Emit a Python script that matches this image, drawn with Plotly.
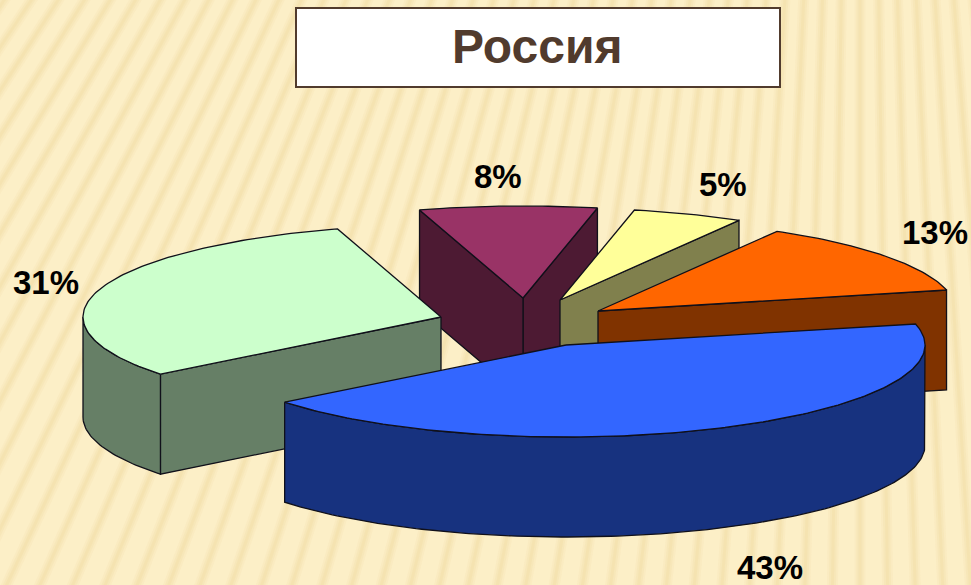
import math
import plotly.graph_objects as go

title = "Россия"
values = [43, 13, 5, 8, 31]
top_colors = ["#3366FF", "#FF6600", "#FFFF99", "#993366", "#CCFFCC"]
wall_colors = ["#17327F", "#803300", "#80804D", "#4D1A33", "#667F66"]

# Geometry of the exploded 3-D pie (screen pixels on the axes)
start_angle = 218.4
centres_x = [566, 598, 560, 523, 441]
centres_y = [345, 311, 300, 298, 317]
radius_x = [359, 358, 358, 358, 358]
radius_y = 92
depth = 100
draw_order = [3, 2, 1, 4, 0]
label_x = [770, 935, 723, 498, 46]
label_y = [567, 232, 184, 176, 282]

W, H = 971, 585
fig = go.Figure()


def add_poly(xs, ys, fill):
    fig.add_trace(go.Scatter(
        x=xs, y=ys, mode="lines", fill="toself", fillcolor=fill,
        line=dict(color="#10101A", width=1.3), hoverinfo="skip", showlegend=False,
    ))


# Background: soft fan of stripes
FX, FY = 860, -1250
for width, alpha in [(11, 0.09), (7, 0.13), (3, 0.15)]:
    xs, ys = [], []
    for i in range(-10, 60):
        a = math.radians(90 + i * 0.86)
        xs += [FX + 2600 * math.cos(a), FX, None]
        ys += [FY + 2600 * math.sin(a), FY, None]
    fig.add_trace(go.Scatter(
        x=xs, y=ys, mode="lines",
        line=dict(color=f"rgba(232,205,135,{alpha})", width=width),
        hoverinfo="skip", showlegend=False,
    ))

# Angles of each slice from the values
total = sum(values)
angles = []
a = start_angle
for v in values:
    angles.append((a, a + 360 * v / total))
    a += 360 * v / total


def pt(i, deg):
    r = math.radians(deg)
    return (centres_x[i] + radius_x[i] * math.cos(r),
            centres_y[i] - radius_y * math.sin(r))


def arc(i, a0, a1):
    n = max(2, int(abs(a1 - a0)) + 1)
    return [pt(i, a0 + (a1 - a0) * k / n) for k in range(n + 1)]


for i in draw_order:
    a0, a1 = angles[i]
    cx, cy = centres_x[i], centres_y[i]
    # radial walls that face the viewer
    for edge, visible in ((a0, math.cos(math.radians(a0)) > 0),
                          (a1, math.cos(math.radians(a1)) < 0)):
        if visible:
            px, py = pt(i, edge)
            add_poly([cx, px, px, cx, cx],
                     [cy, py, py + depth, cy + depth, cy], wall_colors[i])
    # outer curved wall (front half of the ellipse only)
    for k in (-1, 0, 1, 2):
        lo = max(a0, 180 + 360 * k)
        hi = min(a1, 360 + 360 * k)
        if lo < hi:
            pts = arc(i, lo, hi)
            xs = [p[0] for p in pts] + [p[0] for p in reversed(pts)]
            ys = [p[1] for p in pts] + [p[1] + depth for p in reversed(pts)]
            add_poly(xs + xs[:1], ys + ys[:1], wall_colors[i])
    # top face
    pts = arc(i, a0, a1)
    add_poly([cx] + [p[0] for p in pts] + [cx],
             [cy] + [p[1] for p in pts] + [cy], top_colors[i])

annotations = [
    dict(x=x, y=y, xref="x", yref="y", text=f"<b>{v}%</b>", showarrow=False,
         font=dict(family="Liberation Sans", size=33, color="#000000"))
    for x, y, v in zip(label_x, label_y, values)
]
annotations.append(dict(
    x=537, y=46, xref="x", yref="y", text=f"<b>{title}</b>", showarrow=False,
    font=dict(family="Liberation Sans", size=48, color="#513B2D"),
))

fig.update_layout(
    width=W, height=H, margin=dict(l=0, r=0, t=0, b=0),
    paper_bgcolor="#FCEFC7", plot_bgcolor="#FCEFC7",
    xaxis=dict(range=[0, W], visible=False, fixedrange=True),
    yaxis=dict(range=[H, 0], visible=False, fixedrange=True),
    annotations=annotations,
    shapes=[dict(type="rect", xref="x", yref="y", x0=296, y0=8, x1=780, y1=87,
                 fillcolor="#FFFFFF", line=dict(color="#513B2D", width=2))],
)
fig.write_html("out.html", config={"displayModeBar": False},
               post_script="document.body.style.margin='0';")
